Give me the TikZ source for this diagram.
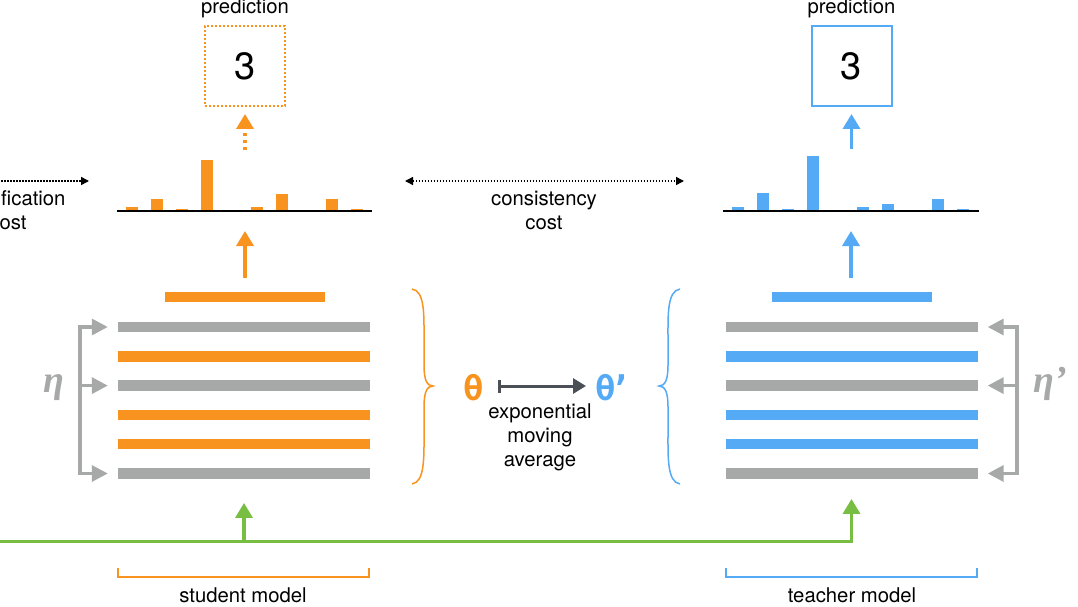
\documentclass[tikz,border=0pt]{standalone}
\usepackage{fontspec}
\setmainfont{TeX Gyre Heros}
\newfontfamily\thetafont{DejaVu Sans Mono}
\newfontfamily\etafont{Liberation Serif}
\usepackage{xcolor}
\usetikzlibrary{arrows.meta, positioning, math}
\definecolor{stuorange}{HTML}{F7931E}
\definecolor{teablue}{HTML}{55AAF6}
\definecolor{laygray}{HTML}{A7A9A8}
\definecolor{inpgreen}{HTML}{78BE43}
\definecolor{emagray}{HTML}{4B5057}
\tikzset{
  lbl/.style={font=\fontsize{20.3}{24}\selectfont, inner sep=0pt, align=center},
  predbox/.style={minimum width=80pt, minimum height=80pt, line width=2pt, inner sep=0pt, font=\fontsize{38}{40}\selectfont},
  layerbar/.style={minimum width=252pt, minimum height=10.5pt, inner sep=0pt},
  outbar/.style={minimum width=160pt, minimum height=10.5pt, inner sep=0pt},
  uparrow/.style={-{Triangle[length=15pt,width=17pt]}, line width=3.5pt},
  etaarrow/.style={line width=3.4pt, laygray},
  etatip/.tip={Triangle[length=16pt,width=16pt]},
  costarrow/.style={dash pattern=on 1.5pt off 1.5pt, line width=1.5pt},
  costtip/.tip={Triangle[length=8pt,width=8pt]},
  etalbl/.style={text=laygray, inner sep=0pt, font=\etafont\bfseries\itshape\fontsize{38}{38}\selectfont},
  thetalbl/.style={inner sep=0pt, font=\thetafont\bfseries\fontsize{34}{34}\selectfont},
  curlyb/.style={line width=1.5pt},
}
\begin{document}
\begin{tikzpicture}[x=1pt, y=-1pt]
\tikzmath{
\sx=244;
\tx=851;
\dy=29.3;
\ly=327;
\hy=211;
}
\useasboundingbox (0,0) rectangle (1078,607);
\clip (0,0) rectangle (1078,607);

\foreach \k/\c in {1/laygray,2/stuorange,3/laygray,4/stuorange,5/stuorange,6/laygray}
  \node[layerbar, fill=\c] (s\k) at (\sx,\ly+\dy*\k-\dy) {};
\foreach \k/\c in {1/laygray,2/teablue,3/laygray,4/teablue,5/teablue,6/laygray}
  \node[layerbar, fill=\c] (t\k) at (\tx+0.5,\ly+\dy*\k-\dy) {};
\node[outbar, fill=stuorange] (sout) at (\sx+1,297) {};
\node[outbar, fill=teablue] (tout) at (\tx+0.5,297) {};

\foreach \i/\h in {0/4,1/12,2/2,3/51,5/4,6/17,8/12,9/2}
  \fill[stuorange] (126+25*\i,\hy) rectangle ++(12,-\h);
\foreach \i/\h in {0/4,1/18,2/2,3/55,5/4,6/7,8/12,9/2}
  \fill[teablue] (732+25*\i,\hy) rectangle ++(12,-\h);
\draw[line width=1.5pt] (117,\hy) -- (372,\hy);
\draw[line width=1.5pt] (723,\hy) -- (979,\hy);
\coordinate (shist) at (\sx+1,\hy);
\coordinate (thist) at (\tx,\hy);

\draw[stuorange, uparrow, shorten <=14pt, shorten >=20pt] (sout.north) -- (shist);
\draw[teablue, uparrow, shorten <=14pt, shorten >=20pt] (tout.north -| thist) -- (thist);

\node[predbox, draw=stuorange, dash pattern=on 2pt off 2pt] (sbox) at (245,66) {3};
\node[predbox, draw=teablue] (tbox) at (851.5,66) {3};
\node[lbl, anchor=base] (spl) at (245,14) {prediction};
\node[lbl, anchor=base] (tpl) at (851.5,14) {prediction};
\coordinate (sdist) at (245,150);
\coordinate (tdist) at (851.5,149);
\draw[stuorange, uparrow, dash pattern=on 3.5pt off 3.5pt, shorten >=7pt] (sdist) -- (sbox.south);
\draw[teablue, uparrow, shorten >=7pt] (tdist) -- (tbox.south);

\node[lbl] (ccost) at (8,210) {classification\\cost};
\node[lbl] (kcost) at (544,210) {consistency\\cost};
\coordinate (cl) at (-20,181);
\coordinate (cr) at (89,181);
\coordinate (kl) at (405,181);
\coordinate (kr) at (684,181);
\draw[costarrow, -costtip] (cl) -- (cr);
\draw[costarrow, costtip-costtip] (kl) -- (kr);

\coordinate (etal) at (80,\ly+2*\dy);
\coordinate (etar) at (1017,\ly+2*\dy);
\draw[etaarrow, etatip-etatip] ([xshift=-10pt]s1.west) -| (etal) |- ([xshift=-10pt]s6.west);
\draw[etaarrow, -etatip] (etal) -- ([xshift=-10pt]s3.west);
\draw[etaarrow, etatip-etatip] ([xshift=10pt]t1.east) -| (etar) |- ([xshift=10pt]t6.east);
\draw[etaarrow, -etatip] (etar) -- ([xshift=10pt]t3.east);
\node[etalbl, anchor=base] (eta) at (54,392) {η};
\node[etalbl, anchor=base] (etap) at (1050,392) {η’};

\draw[curlyb, stuorange] (412,289) .. controls (425,291) and (424,315) .. (424,340) -- (424,365) .. controls (424,380) and (427,386) .. (433,386) .. controls (427,386) and (424,392) .. (424,407) -- (424,432) .. controls (424,457) and (425,482) .. (412,484);
\draw[curlyb, teablue] (680,289) .. controls (667,291) and (668,315) .. (668,340) -- (668,365) .. controls (668,380) and (665,386) .. (659,386) .. controls (665,386) and (668,392) .. (668,407) -- (668,432) .. controls (668,457) and (667,482) .. (680,484);

\node[thetalbl, text=stuorange, anchor=base] (th) at (474,400) {θ};
\node[thetalbl, text=teablue, anchor=base west] (thp) at (595,400) {θ\kern-5pt’};
\draw[emagray, line width=3pt, {Bar[width=13pt]}-{Triangle[length=13pt,width=15pt]}, shorten <=14pt, shorten >=9pt] (th.east |- 0,386) -- (thp.west |- 0,386);
\node[lbl] (ema) at (540,437) {exponential\\moving\\average};

\coordinate (inp) at (-5,541.5);
\draw[inpgreen, uparrow, line width=3.3pt, shorten >=20pt] (inp) -| (t6.south);
\draw[inpgreen, uparrow, line width=3.3pt, shorten >=24pt] (s6.south |- inp) -- (s6.south);

\draw[stuorange, line width=2pt] (118,568) |- (369,577) -- (369,568);
\draw[teablue, line width=2pt] (726,568) |- (977,577) -- (977,568);
\node[lbl, anchor=base] (smodel) at (243,602) {student model};
\node[lbl, anchor=base] (tmodel) at (852,602) {teacher model};
\end{tikzpicture}
\end{document}
